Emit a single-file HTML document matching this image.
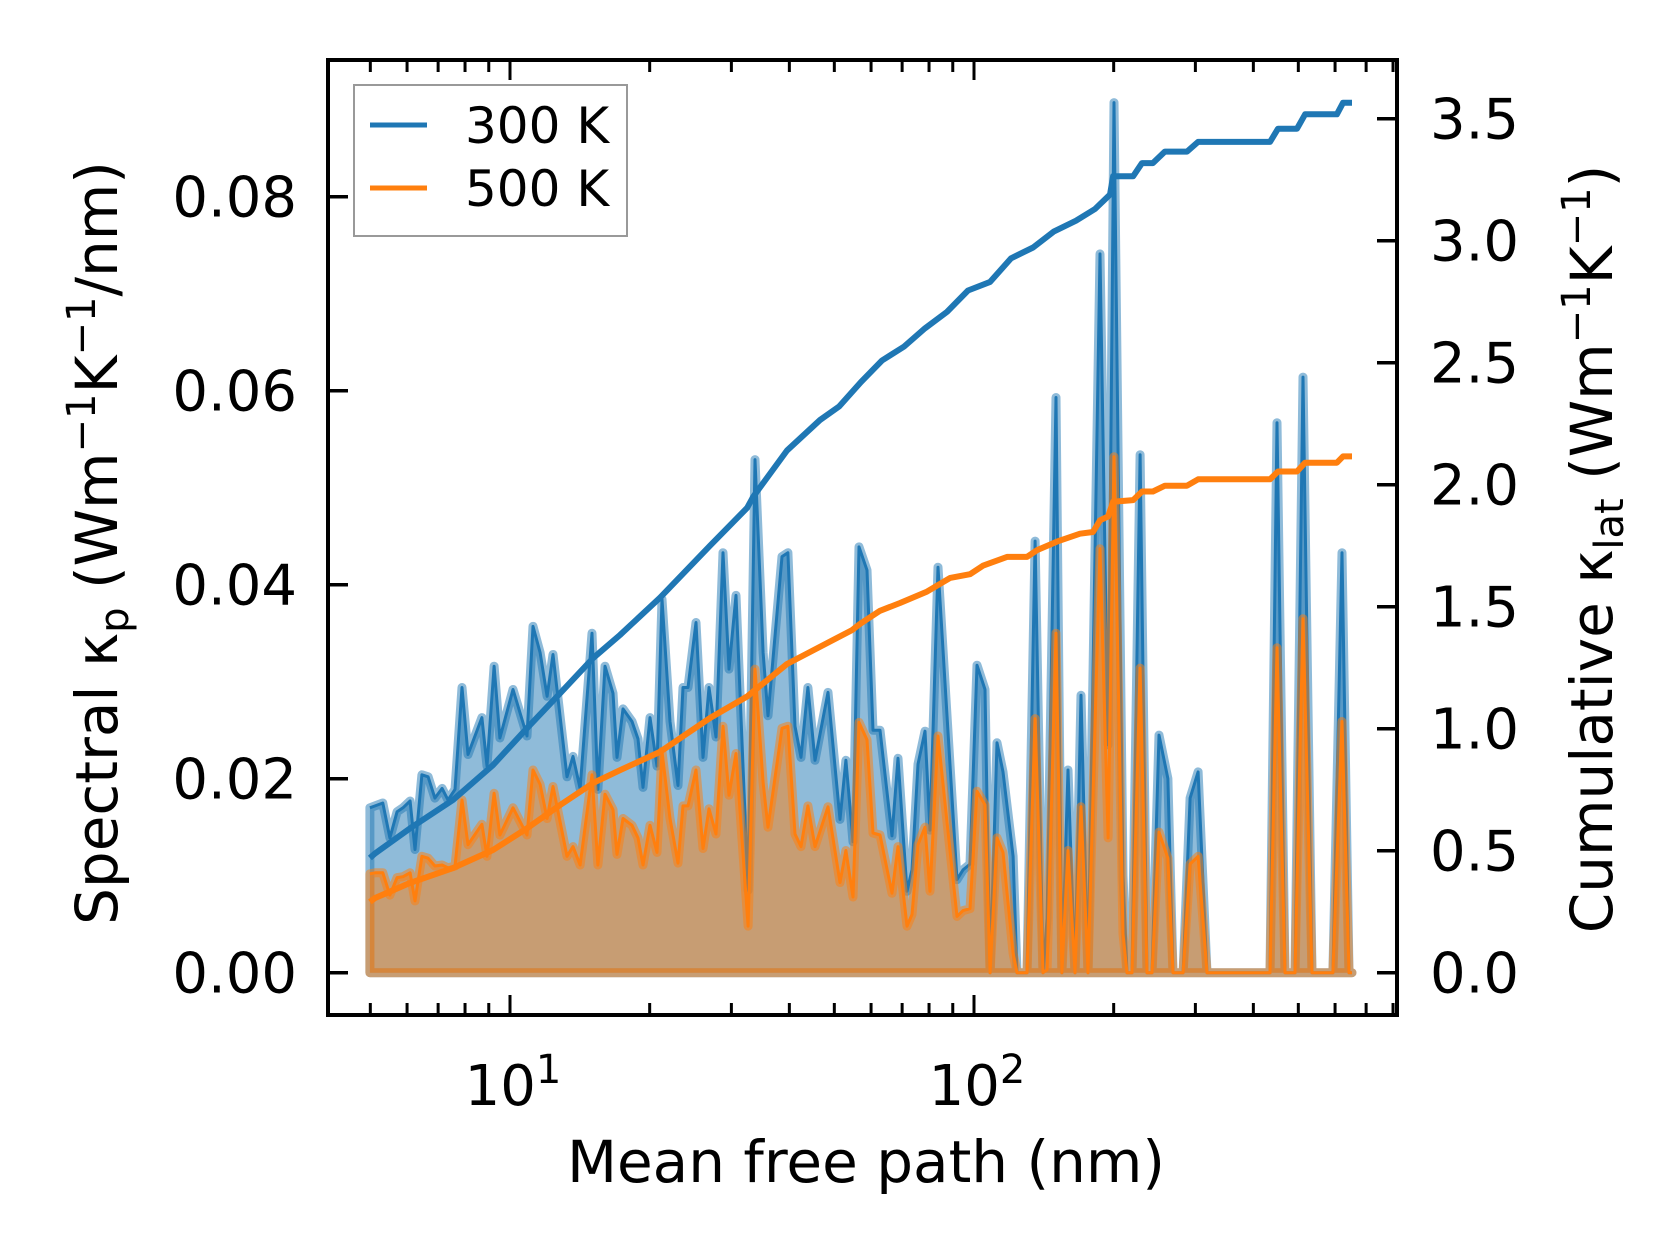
<!DOCTYPE html>
<html><head><meta charset="utf-8"><style>
html,body{margin:0;padding:0;background:#fff;}
svg{display:block;font-family:"DejaVu Sans","Liberation Sans",sans-serif;}
</style></head><body>
<svg id="chart" width="1679" height="1254" viewBox="0 0 1679 1254" xmlns="http://www.w3.org/2000/svg">
<rect x="0" y="0" width="1679" height="1254" fill="#fff"/>
<g id="plot"></g>
<g id="axes"></g>
</svg>
<script>
// Spectral data (shared mean-free-path bins, nm)
const mfp = [4.99,5.12,5.32,5.51,5.71,5.88,6.09,6.24,6.46,6.66,6.89,7.14,7.35,7.61,7.88,8.12,8.70,8.92,9.24,9.51,10.15,10.88,11.21,11.61,12.02,12.38,13.27,13.67,14.16,15.02,15.47,16.02,16.67,17.01,17.52,18.32,18.87,19.35,20.03,20.74,21.26,22.12,23.02,23.60,24.19,25.17,26.06,26.85,27.80,28.78,29.65,30.70,32.59,33.73,35.11,35.97,38.57,39.72,41.13,42.38,43.86,45.42,48.45,51.42,52.97,54.85,56.51,58.80,60.58,62.73,66.58,68.59,71.72,73.52,75.74,78.42,80.39,83.64,86.60,91.91,94.69,98.04,101.5,105.6,108.3,112.1,115.5,121.4,123.8,130.1,135.4,140.8,143.7,150.2,154.7,159.4,165.1,170.1,176.1,186.9,194.5,200.3,209.5,213.7,219.0,228.0,236.0,241.9,250.4,261.8,268.5,282.2,292.2,304.1,317.8,434.5,449.8,468.1,491.8,511.8,535.1,593.7,621.0,643.0,652.7];
const spec300 = [0.0170,0.0172,0.0175,0.0139,0.0166,0.0170,0.0177,0.0127,0.0204,0.0202,0.0180,0.0190,0.0178,0.0189,0.0294,0.0225,0.0263,0.0213,0.0316,0.0242,0.0292,0.0244,0.0357,0.0330,0.0285,0.0328,0.0202,0.0223,0.0190,0.0350,0.0189,0.0316,0.0288,0.0222,0.0272,0.0259,0.0241,0.0191,0.0263,0.0213,0.0385,0.0259,0.0193,0.0294,0.0294,0.0361,0.0222,0.0294,0.0243,0.0433,0.0313,0.0389,0.0085,0.0529,0.0330,0.0265,0.0429,0.0433,0.0254,0.0222,0.0294,0.0219,0.0289,0.0158,0.0219,0.0135,0.0439,0.0415,0.0250,0.0250,0.0141,0.0221,0.0084,0.0106,0.0215,0.0249,0.0147,0.0418,0.0299,0.0096,0.0106,0.0112,0.0317,0.0292,0.0,0.0237,0.0207,0.0120,0.0,0.0,0.0445,0.0,0.0056,0.0593,0.0,0.0209,0.0,0.0286,0.0,0.0741,0.0235,0.0897,0.0100,0.0,0.0,0.0534,0.0,0.0,0.0245,0.0200,0.0,0.0,0.0180,0.0207,0.0,0.0,0.0567,0.0,0.0,0.0614,0.0,0.0,0.0433,0.0,0.0];
const spec500 = [0.0102,0.0103,0.0103,0.0080,0.0098,0.0099,0.0103,0.0074,0.0120,0.0118,0.0110,0.0111,0.0108,0.0110,0.0178,0.0132,0.0153,0.0120,0.0185,0.0142,0.0170,0.0142,0.0209,0.0194,0.0159,0.0192,0.0120,0.0130,0.0111,0.0204,0.0111,0.0184,0.0168,0.0122,0.0159,0.0152,0.0139,0.0111,0.0152,0.0124,0.0228,0.0159,0.0113,0.0172,0.0172,0.0209,0.0128,0.0169,0.0143,0.0254,0.0183,0.0226,0.0048,0.0313,0.0196,0.0150,0.0252,0.0254,0.0143,0.0130,0.0172,0.0130,0.0171,0.0093,0.0126,0.0078,0.0258,0.0240,0.0144,0.0142,0.0082,0.0130,0.0048,0.0060,0.0132,0.0150,0.0084,0.0244,0.0175,0.0058,0.0064,0.0066,0.0187,0.0173,0.0,0.0139,0.0124,0.0020,0.0,0.0,0.0262,0.0,0.0003,0.0350,0.0,0.0126,0.0,0.0171,0.0,0.0437,0.0139,0.0532,0.0040,0.0,0.0,0.0314,0.0,0.0,0.0145,0.0118,0.0,0.0,0.0112,0.0120,0.0,0.0,0.0335,0.0,0.0,0.0365,0.0,0.0,0.0259,0.0,0.0];
// Cumulative data
const cumMfp300 = [4.99,5.12,6.09,7.54,9.19,10.88,12.82,15.10,17.26,21.05,26.98,32.43,33.41,39.54,46.57,51.17,57.08,63.36,70.67,78.42,87.48,97.07,108.3,120.2,134.1,148.7,165.9,182.3,196.4,199.4,220.2,230.2,243.0,257.9,287.8,304.1,434.5,452.0,496.7,517.0,605.6,624.1,652.7];
const cum300 = [0.47,0.489,0.592,0.708,0.851,1.002,1.145,1.289,1.384,1.537,1.750,1.905,1.950,2.140,2.265,2.320,2.421,2.509,2.566,2.641,2.708,2.796,2.831,2.928,2.972,3.038,3.082,3.13,3.189,3.264,3.264,3.318,3.318,3.365,3.365,3.405,3.405,3.459,3.459,3.518,3.518,3.565,3.565];
const cumMfp500 = [4.99,5.12,6.09,7.54,9.19,10.88,12.82,15.10,17.26,21.05,26.98,32.43,39.54,54.59,56.76,62.73,69.27,79.19,88.80,98.04,104.5,117.8,130.1,136.8,151.0,169.2,180.5,186.9,194.5,199.4,220.2,230.2,243.0,257.9,287.8,304.1,434.5,452.0,496.7,517.0,605.6,624.1,652.7];
const cum500 = [0.29,0.306,0.368,0.429,0.503,0.592,0.687,0.777,0.83,0.905,1.044,1.132,1.265,1.404,1.429,1.483,1.515,1.562,1.618,1.633,1.668,1.704,1.704,1.732,1.767,1.799,1.806,1.854,1.870,1.93,1.937,1.972,1.972,1.996,1.996,2.022,2.022,2.054,2.054,2.090,2.090,2.116,2.116];
const leftTicks = [0,0.02,0.04,0.06,0.08];
const leftTickLabels = ["0.00","0.02","0.04","0.06","0.08"];
const rightTicks = [0,0.5,1,1.5,2,2.5,3,3.5];
const rightTickLabels = ["0.0","0.5","1.0","1.5","2.0","2.5","3.0","3.5"];
const xMajor = [10,100];
const xMajorExp = ["1","2"];

const NS = "http://www.w3.org/2000/svg";
const L = 328, R = 1397, T = 60, B = 1015;
function xs(v){ return 510 + (Math.log10(v) - 1) * 464; }
function yl(v){ return 972.7 - v * 9700; }
function yr(v){ return 972.7 - v * 244; }
function mk(tag, attrs, parent){
  const e = document.createElementNS(NS, tag);
  for (const k in attrs) e.setAttribute(k, attrs[k]);
  parent.appendChild(e); return e;
}
const plot = document.getElementById('plot');
const axes = document.getElementById('axes');

function spectral(vals, color, name){
  const pts = mfp.map((m,i)=>xs(m).toFixed(1)+','+yl(vals[i]).toFixed(1));
  const poly = pts.join(' ') + ' ' + xs(mfp[mfp.length-1]).toFixed(1)+','+yl(0).toFixed(1)+' '+xs(mfp[0]).toFixed(1)+','+yl(0).toFixed(1);
  const f = mk('polygon',{points:poly, fill:color, 'fill-opacity':0.5, stroke:color, 'stroke-opacity':0.5, 'stroke-width':9, 'stroke-linejoin':'round'}, plot);
  
  
  const l = mk('polyline',{points:pts.join(' '), fill:'none', stroke:color, 'stroke-width':3, 'stroke-linejoin':'round'}, plot);
  
  
}
spectral(spec300, '#1f77b4', 'spectral-300k');
spectral(spec500, '#ff7f0e', 'spectral-500k');

function cumul(xv, vals, color, name){
  const pts = xv.map((m,i)=>xs(m).toFixed(1)+','+yr(vals[i]).toFixed(1)).join(' ');
  const l = mk('polyline',{points:pts, fill:'none', stroke:color, 'stroke-width':6, 'stroke-linejoin':'round'}, plot);
  
  
}
cumul(cumMfp300, cum300, '#1f77b4', 'cumulative-300k');
cumul(cumMfp500, cum500, '#ff7f0e', 'cumulative-500k');

const fr = mk('rect',{x:L, y:T, width:R-L, height:B-T, fill:'none', stroke:'#000', 'stroke-width':4}, axes);



leftTicks.forEach((v,i)=>{
  const y = yl(v);
  const t = mk('line',{x1:L, x2:L+20, y1:y, y2:y, stroke:'#000','stroke-width':3.5}, axes);
  
  
  const tx = mk('text',{x:297, y:y+20, 'text-anchor':'end', 'font-size':56, fill:'#000'}, axes);
  tx.textContent = leftTickLabels[i];
  
  
});
rightTicks.forEach((v,i)=>{
  const y = yr(v);
  const t = mk('line',{x1:R-20, x2:R, y1:y, y2:y, stroke:'#000','stroke-width':3.5}, axes);
  
  
  const tx = mk('text',{x:1430, y:y+20, 'text-anchor':'start', 'font-size':56, fill:'#000'}, axes);
  tx.textContent = rightTickLabels[i];
  
  
});
for (let dec=1; dec<=100; dec*=10){
  for (let k=1; k<=9; k++){
    const v = k*dec; const x = xs(v);
    if (x < L+2 || x > R-2) continue;
    const len = k===1 ? 20 : 12;
    [[B, B-len],[T, T+len]].forEach(p=>{
      const t = mk('line',{x1:x, x2:x, y1:p[0], y2:p[1], stroke:'#000','stroke-width':3}, axes);
      
      
    });
  }
}
xMajor.forEach((v,i)=>{
  const x = xs(v);
  const tx = mk('text',{x:x+3, y:1105, 'text-anchor':'middle', 'font-size':56, fill:'#000'}, axes);
  
  
  const a = document.createElementNS(NS,'tspan'); a.textContent = '10'; tx.appendChild(a);
  const b = document.createElementNS(NS,'tspan'); b.setAttribute('dy','-22'); b.setAttribute('font-size','40'); b.textContent = xMajorExp[i]; tx.appendChild(b);
});
</script>
<svg style="position:absolute;left:0;top:0" width="1679" height="1254">
<g font-family="DejaVu Sans, Liberation Sans, sans-serif" fill="#000">
<text x="866" y="1182" text-anchor="middle" font-size="58">Mean free path (nm)</text>
<text transform="translate(117,543) rotate(-90)" text-anchor="middle" font-size="58">Spectral κ<tspan font-size="40" dy="11">p</tspan><tspan dy="-11"> (Wm</tspan><tspan font-size="40" dy="-22">−1</tspan><tspan dy="22">K</tspan><tspan font-size="40" dy="-22">−1</tspan><tspan dy="22">/nm)</tspan></text>
<text transform="translate(1612,549) rotate(-90)" text-anchor="middle" font-size="58">Cumulative κ<tspan font-size="40" dy="11">lat</tspan><tspan dy="-11"> (Wm</tspan><tspan font-size="40" dy="-22">−1</tspan><tspan dy="22">K</tspan><tspan font-size="40" dy="-22">−1</tspan><tspan dy="22">)</tspan></text>
<g>
<rect x="354" y="85" width="273" height="151" fill="#fff" fill-opacity="0.8" stroke="#999" stroke-width="2"/>
<line x1="370" y1="125" x2="427" y2="125" stroke="#1f77b4" stroke-width="5"/>
<text x="465" y="143" font-size="50">300 K</text>
<line x1="370" y1="188" x2="427" y2="188" stroke="#ff7f0e" stroke-width="5"/>
<text x="465" y="206" font-size="50">500 K</text>
</g>
</g>
</svg>
</body></html>
